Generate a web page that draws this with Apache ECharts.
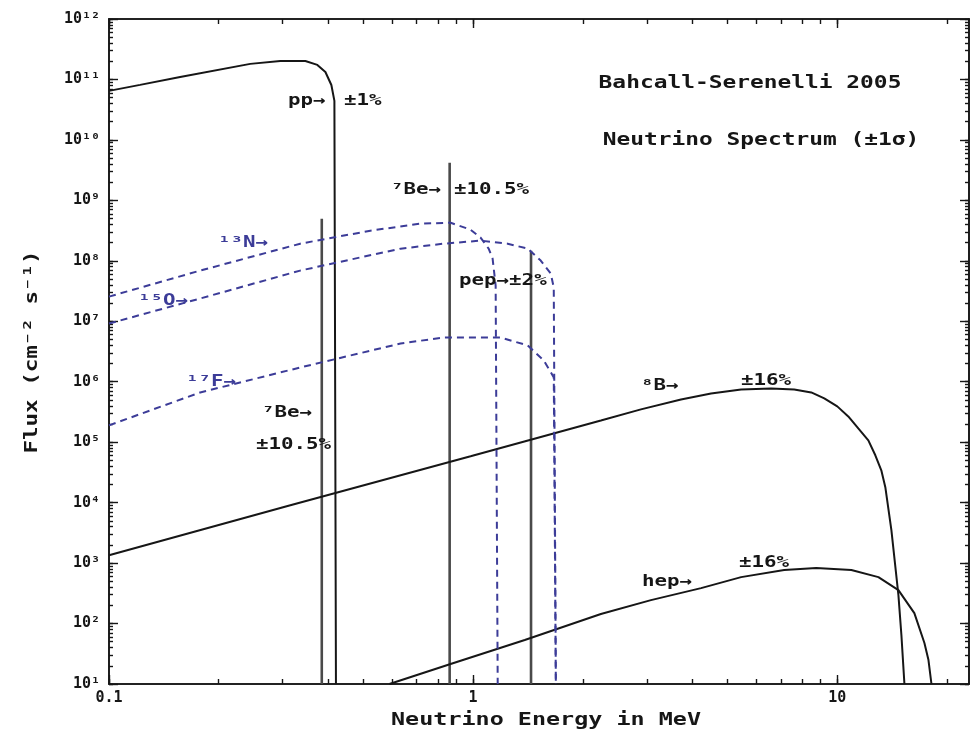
<!DOCTYPE html>
<html>
<head>
<meta charset="utf-8">
<title>Solar neutrino spectrum</title>
<script src="https://cdn.jsdelivr.net/npm/echarts@6/dist/echarts.min.js"></script>
<style>
  html, body { margin: 0; padding: 0; background: #ffffff; }
  #chart { width: 980px; height: 741px; }
</style>
</head>
<body>
<div id="chart"></div>
<script>
// Solar neutrino fluxes of the Bahcall–Serenelli 2005 solar model.
// Energies in MeV; continuum spectra in cm^-2 s^-1 MeV^-1, lines in cm^-2 s^-1.

// Axis ranges and tick labels
const X_MIN = 0.1, X_MAX = 23;
const Y_MIN = 1e1, Y_MAX = 1e12;
const xMajorTicks = [0.1, 1, 10];
const xTickLabels = ['0.1', '1', '10'];
const yMajorTicks = [1e1, 1e2, 1e3, 1e4, 1e5, 1e6, 1e7, 1e8, 1e9, 1e10, 1e11, 1e12];
const yTickLabels = ['10¹', '10²', '10³', '10⁴', '10⁵', '10⁶', '10⁷', '10⁸', '10⁹', '10¹⁰', '10¹¹', '10¹²'];

// Continuum spectra [energy, flux]
const ppSpectrum = [
  [0.1, 6.47e10], [0.1217, 8.13e10], [0.1568, 1.10e11], [0.2443, 1.81e11],
  [0.2954, 2.02e11], [0.3461, 2.02e11], [0.3734, 1.74e11], [0.3929, 1.33e11],
  [0.408, 8.1e10], [0.4159, 4.43e10], [0.42, 10]
];
const b8Spectrum = [
  [0.1, 1.35e3], [0.3148, 9.06e3], [0.984, 5.84e4], [2.243, 2.29e5],
  [2.889, 3.49e5], [3.722, 5.10e5], [4.501, 6.41e5], [5.444, 7.46e5],
  [6.58, 7.75e5], [7.616, 7.46e5], [8.484, 6.66e5], [9.21, 5.30e5],
  [10.0, 3.91e5], [10.72, 2.67e5], [11.42, 1.69e5], [12.17, 1.07e5],
  [12.72, 6.07e4], [13.21, 3.43e4], [13.55, 1.80e4], [14.08, 3.50e3],
  [14.72, 296], [15.0, 64.6], [15.29, 10]
];
const hepSpectrum = [
  [0.589, 10], [0.867, 21.4], [1.386, 53.3], [2.243, 144], [3.078, 244],
  [4.226, 385], [5.444, 586], [7.148, 766], [8.754, 826], [10.93, 766],
  [12.97, 586], [14.72, 357], [16.28, 149], [17.35, 47.6], [17.80, 24.9],
  [18.14, 10]
];
const n13Spectrum = [
  [0.1, 2.56e7], [0.178, 6.89e7], [0.335, 1.92e8], [0.522, 3.15e8],
  [0.717, 4.12e8], [0.867, 4.27e8], [0.984, 3.27e8], [1.048, 2.42e8],
  [1.103, 1.59e8], [1.131, 1.09e8], [1.153, 3.89e7], [1.168, 10]
];
const o15Spectrum = [
  [0.1, 9.18e6], [0.178, 2.38e7], [0.335, 6.89e7], [0.632, 1.59e8],
  [0.8295, 1.92e8], [1.048, 2.16e8], [1.244, 1.92e8], [1.412, 1.59e8],
  [1.533, 1.01e8], [1.634, 6.15e7], [1.665, 3.61e7], [1.687, 10]
];
const f17Spectrum = [
  [0.1, 1.90e5], [0.178, 6.65e5], [0.335, 1.72e6], [0.632, 4.29e6],
  [0.8295, 5.39e6], [1.19, 5.39e6], [1.412, 3.98e6], [1.563, 2.25e6],
  [1.665, 1.18e6], [1.687, 10]
];

// Line sources: energy and flux
const be7LowLine = [0.384, 4.98e8];
const be7HighLine = [0.862, 4.19e9];
const pepLine = [1.442, 1.47e8];

const INK = '#161616';
const LINE_GREY = '#4a4a4a';
const CNO_BLUE = '#3c3c98';
const MONO = "'DejaVu Sans Mono', 'Liberation Mono', monospace";

function findLabel(ticks, labels, v) {
  const i = ticks.findIndex(t => Math.abs(Math.log10(t) - Math.log10(v)) < 1e-6);
  return i >= 0 ? labels[i] : '';
}

// Every 1..9 × 10^n position inside a range (decade ticks included)
function allLogTicks(lo, hi) {
  const out = [];
  for (let d = Math.round(Math.log10(lo)); Math.pow(10, d) <= hi; d++) {
    for (let m = 1; m <= 9; m++) {
      const v = +(m * Math.pow(10, d)).toPrecision(6);
      if (v >= lo && v <= hi) out.push(v);
    }
  }
  return out;
}
const xAllTicks = allLogTicks(X_MIN, X_MAX);
const yAllTicks = allLogTicks(Y_MIN, Y_MAX);

function axis(kind, position, ticks, tickLen, labels) {
  const isX = kind === 'x';
  return {
    type: 'log',
    logBase: 10,
    min: isX ? X_MIN : Y_MIN,
    max: isX ? X_MAX : Y_MAX,
    position: position,
    axisLine: { show: true, onZero: false, lineStyle: { color: INK, width: 1.6 } },
    axisTick: {
      show: true, inside: true, length: tickLen, customValues: ticks,
      lineStyle: { color: INK, width: 1.4 }
    },
    axisLabel: labels ? {
      show: true,
      customValues: ticks,
      formatter: v => findLabel(ticks, labels, v),
      fontFamily: MONO,
      fontWeight: 'bold',
      fontSize: 15,
      color: INK,
      margin: isX ? 7 : 9
    } : { show: false },
    splitLine: { show: false },
    minorTick: { show: false },
    minorSplitLine: { show: false }
  };
}

function curve(data, color, width, dashed, z) {
  return {
    type: 'line',
    data: data,
    xAxisIndex: 0,
    yAxisIndex: 0,
    symbol: 'none',
    showSymbol: false,
    silent: true,
    clip: true,
    z: z || 2,
    lineStyle: { color: color, width: width, type: dashed ? [7, 5] : 'solid' }
  };
}

function spectralLine(line) {
  return curve([[line[0], Y_MIN], [line[0], line[1]]], LINE_GREY, 2.6, false, 1);
}

function label(text, x, y, opts) {
  opts = opts || {};
  return {
    type: 'text',
    x: x, y: y,
    scaleX: opts.scaleX || 1.3,
    rotation: opts.rotation || 0,
    silent: true,
    z: 10,
    style: {
      text: text,
      font: 'bold ' + (opts.size || 16) + 'px ' + MONO,
      fill: opts.color || INK,
      textAlign: opts.align || 'left',
      textVerticalAlign: 'middle'
    }
  };
}

const chart = echarts.init(document.getElementById('chart'), null, { renderer: 'canvas' });

chart.setOption({
  animation: false,
  backgroundColor: '#ffffff',
  grid: { left: 109, right: 11, top: 19, bottom: 57, containLabel: false },
  xAxis: [
    axis('x', 'bottom', xAllTicks, 5, null),
    axis('x', 'top', xAllTicks, 5, null),
    axis('x', 'bottom', xMajorTicks, 9, xTickLabels),
    axis('x', 'top', xMajorTicks, 9, null)
  ],
  yAxis: [
    axis('y', 'left', yAllTicks, 4, null),
    axis('y', 'right', yAllTicks, 4, null),
    axis('y', 'left', yMajorTicks, 9, yTickLabels),
    axis('y', 'right', yMajorTicks, 9, null)
  ],
  series: [
    spectralLine(be7LowLine),
    spectralLine(be7HighLine),
    spectralLine(pepLine),
    curve(ppSpectrum, INK, 2, false, 3),
    curve(b8Spectrum, INK, 2, false, 3),
    curve(hepSpectrum, INK, 2, false, 3),
    curve(n13Spectrum, CNO_BLUE, 2, true, 4),
    curve(o15Spectrum, CNO_BLUE, 2, true, 4),
    curve(f17Spectrum, CNO_BLUE, 2, true, 4)
  ],
  graphic: [
    label('Bahcall-Serenelli 2005', 750, 83, { size: 18, align: 'center', scaleX: 1.27 }),
    label('Neutrino Spectrum (±1σ)', 761, 140, { size: 18, align: 'center', scaleX: 1.27 }),
    label('Neutrino Energy in MeV', 546, 720, { size: 18, align: 'center', scaleX: 1.3 }),
    label('Flux (cm⁻² s⁻¹)', 32, 352, { size: 18, align: 'center', scaleX: 1.25, rotation: Math.PI / 2 }),
    label('pp→', 288, 101),
    label('±1%', 344, 101),
    label('⁷Be→', 391, 190),
    label('±10.5%', 454, 190),
    label('⁷Be→', 262, 413),
    label('±10.5%', 256, 445),
    label('pep→±2%', 459, 281),
    label('⁸B→', 641, 386),
    label('±16%', 741, 381),
    label('hep→', 642, 582),
    label('±16%', 739, 563),
    label('¹³N→', 218, 243, { color: CNO_BLUE }),
    label('¹⁵O→', 138, 301, { color: CNO_BLUE }),
    label('¹⁷F→', 186, 382, { color: CNO_BLUE })
  ]
});
</script>
</body>
</html>
